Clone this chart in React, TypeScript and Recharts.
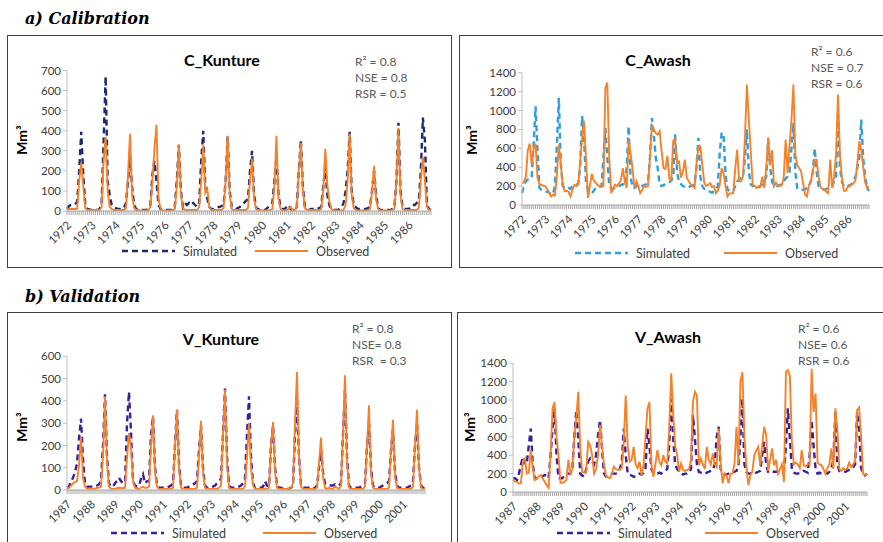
import { LineChart, Line, XAxis, YAxis } from 'recharts';

const CAL_YEARS = [1972, 1973, 1974, 1975, 1976, 1977, 1978, 1979, 1980, 1981, 1982, 1983, 1984, 1985, 1986];
const VAL_YEARS = [1987, 1988, 1989, 1990, 1991, 1992, 1993, 1994, 1995, 1996, 1997, 1998, 1999, 2000, 2001];
const MONTHS = ['01', '02', '03', '04', '05', '06', '07', '08', '09', '10', '11', '12'];

// C_Kunture, monthly Mm3, 1972-1986
const ckSim = [
  10, 25, 30, 30, 35, 45, 200, 395, 180, 30, 10, 8,
  5, 5, 5, 5, 10, 30, 350, 670, 150, 80, 30, 20,
  15, 10, 10, 10, 15, 40, 150, 270, 120, 30, 10, 5,
  5, 5, 5, 5, 10, 30, 180, 250, 150, 30, 10, 5,
  5, 5, 5, 5, 5, 20, 150, 330, 100, 20, 40, 30,
  40, 30, 40, 30, 20, 40, 250, 400, 120, 60, 20, 10,
  10, 15, 20, 20, 25, 30, 150, 370, 100, 20, 10, 10,
  15, 20, 30, 40, 50, 60, 200, 300, 80, 15, 10, 5,
  5, 5, 10, 20, 30, 40, 150, 270, 80, 20, 10, 10,
  20, 30, 10, 5, 5, 20, 200, 355, 120, 20, 10, 5,
  10, 10, 10, 10, 15, 20, 120, 220, 80, 30, 10, 5,
  5, 5, 10, 20, 40, 100, 200, 395, 100, 30, 20, 10,
  10, 10, 10, 10, 15, 20, 100, 200, 80, 15, 5, 5,
  5, 5, 5, 5, 10, 20, 150, 440, 100, 20, 10, 10,
  10, 20, 30, 30, 40, 50, 200, 465, 350, 30, 10, 5,
];
const ckObs = [
  5, 10, 10, 10, 10, 12, 150, 240, 120, 15, 5, 5,
  5, 5, 5, 5, 5, 20, 250, 370, 100, 20, 10, 5,
  5, 5, 5, 5, 5, 15, 180, 385, 80, 15, 5, 5,
  3, 3, 3, 3, 5, 20, 150, 310, 430, 60, 10, 3,
  3, 3, 3, 3, 5, 10, 120, 330, 80, 15, 5, 5,
  5, 5, 5, 5, 5, 20, 150, 330, 90, 110, 20, 5,
  5, 5, 5, 5, 5, 15, 150, 375, 80, 10, 5, 5,
  5, 5, 5, 5, 5, 15, 150, 260, 60, 10, 5, 5,
  3, 3, 3, 3, 5, 10, 120, 375, 60, 10, 3, 3,
  5, 10, 20, 5, 5, 15, 200, 340, 100, 15, 5, 5,
  5, 5, 5, 5, 5, 10, 100, 310, 130, 50, 10, 5,
  3, 3, 3, 3, 5, 30, 150, 385, 80, 15, 5, 3,
  3, 3, 3, 3, 5, 10, 100, 225, 60, 10, 3, 3,
  3, 3, 3, 3, 5, 10, 150, 415, 80, 10, 5, 5,
  5, 5, 5, 5, 5, 15, 150, 270, 150, 20, 5, 5,
];

// C_Awash, 1972-1986
const caSim = [
  125, 200, 250, 270, 270, 300, 640, 1045, 570, 180, 160, 150,
  145, 140, 130, 110, 120, 200, 640, 1135, 450, 200, 180, 170,
  180, 170, 200, 200, 210, 230, 400, 940, 700, 250, 150, 140,
  125, 150, 180, 190, 190, 200, 500, 815, 500, 200, 180, 170,
  180, 190, 200, 210, 220, 200, 400, 835, 300, 190, 180, 200,
  200, 180, 200, 210, 220, 240, 500, 920, 745, 500, 390, 215,
  200, 210, 220, 230, 240, 260, 300, 750, 350, 240, 220, 200,
  190, 180, 190, 200, 210, 220, 400, 710, 300, 200, 170, 160,
  150, 140, 130, 150, 170, 200, 550, 765, 740, 320, 165, 150,
  140, 150, 200, 250, 270, 300, 300, 500, 800, 350, 220, 200,
  200, 190, 180, 200, 220, 250, 300, 690, 400, 250, 200, 200,
  200, 210, 220, 250, 280, 300, 350, 600, 870, 350, 180, 165,
  165, 160, 165, 180, 200, 250, 350, 600, 350, 200, 180, 170,
  160, 170, 180, 190, 200, 250, 300, 960, 400, 250, 200, 190,
  200, 210, 220, 250, 300, 400, 500, 905, 500, 300, 180, 150,
];
const caObs = [
  230, 240, 300, 580, 650, 430, 600, 650, 290, 220, 215, 200,
  200, 170, 130, 90, 110, 100, 320, 640, 430, 220, 145, 150,
  140, 90, 160, 215, 200, 215, 460, 700, 890, 500, 75, 200,
  330, 260, 235, 210, 200, 190, 200, 1240, 1295, 500, 125, 170,
  215, 200, 230, 260, 390, 250, 180, 690, 550, 390, 180, 250,
  200, 125, 160, 200, 190, 200, 500, 840, 800, 760, 745, 780,
  570, 390, 380, 520, 280, 260, 680, 700, 450, 460, 290, 350,
  480, 290, 250, 220, 200, 180, 430, 620, 620, 430, 235, 200,
  215, 230, 190, 200, 125, 150, 215, 390, 330, 200, 90, 120,
  125, 125, 390, 585, 250, 250, 300, 710, 1275, 900, 570, 215,
  200, 180, 200, 200, 300, 180, 400, 715, 420, 580, 200, 235,
  210, 200, 210, 290, 690, 340, 640, 900, 1275, 535, 420, 390,
  355, 230, 110, 90, 210, 250, 350, 480, 480, 300, 190, 170,
  160, 140, 125, 480, 180, 300, 535, 1170, 535, 300, 150, 150,
  190, 200, 215, 230, 260, 445, 675, 585, 400, 240, 180, 200,
];

// V_Kunture, 1987-2001
const vkSim = [
  10, 15, 40, 55, 80, 120, 230, 320, 140, 30, 15, 15,
  15, 15, 20, 20, 25, 40, 200, 430, 150, 30, 15, 15,
  30, 40, 55, 40, 30, 35, 300, 440, 260, 40, 20, 15,
  20, 50, 70, 30, 40, 40, 250, 330, 100, 20, 10, 10,
  10, 10, 10, 15, 20, 30, 200, 360, 120, 20, 10, 10,
  10, 15, 20, 25, 30, 40, 180, 290, 100, 20, 10, 10,
  10, 15, 20, 30, 40, 50, 250, 455, 150, 20, 10, 10,
  10, 10, 15, 20, 30, 50, 250, 420, 150, 30, 10, 10,
  10, 10, 15, 40, 20, 15, 200, 290, 100, 20, 10, 10,
  5, 5, 5, 5, 10, 20, 250, 400, 150, 20, 10, 10,
  10, 10, 5, 5, 10, 20, 100, 180, 80, 30, 25, 20,
  20, 20, 25, 20, 20, 30, 250, 450, 150, 20, 10, 10,
  10, 10, 10, 15, 20, 30, 200, 300, 100, 20, 10, 10,
  10, 15, 20, 25, 30, 40, 180, 270, 80, 20, 10, 10,
  10, 10, 10, 15, 20, 40, 200, 300, 100, 20, 10, 5,
];
const vkObs = [
  5, 10, 20, 30, 35, 40, 110, 240, 55, 15, 5, 5,
  5, 5, 5, 10, 10, 15, 150, 420, 120, 15, 5, 5,
  5, 8, 10, 8, 8, 10, 143, 255, 190, 40, 10, 5,
  5, 10, 15, 10, 10, 15, 200, 335, 80, 15, 5, 5,
  5, 5, 5, 5, 5, 10, 200, 360, 100, 10, 5, 5,
  5, 5, 5, 5, 5, 10, 150, 310, 80, 10, 5, 5,
  5, 5, 5, 5, 10, 20, 250, 450, 120, 10, 5, 5,
  5, 5, 5, 5, 5, 15, 150, 300, 100, 20, 5, 5,
  5, 5, 5, 5, 5, 10, 200, 305, 80, 10, 5, 5,
  5, 5, 5, 5, 10, 30, 300, 530, 150, 15, 5, 5,
  5, 5, 5, 5, 5, 10, 120, 235, 60, 10, 5, 10,
  5, 5, 15, 10, 5, 20, 250, 515, 120, 10, 5, 5,
  5, 5, 5, 5, 5, 15, 200, 380, 80, 10, 5, 5,
  5, 5, 5, 5, 5, 10, 180, 315, 60, 10, 5, 5,
  5, 5, 5, 5, 5, 15, 200, 360, 100, 10, 5, 5,
];

// V_Awash, 1987-2001
const vaSim = [
  150, 150, 130, 200, 300, 380, 300, 320, 510, 690, 300, 150,
  150, 140, 150, 170, 185, 180, 150, 400, 690, 910, 400, 150,
  150, 150, 180, 200, 200, 200, 250, 600, 890, 580, 200, 180,
  165, 250, 330, 365, 330, 300, 400, 620, 780, 475, 200, 170,
  180, 190, 200, 200, 200, 210, 250, 330, 690, 400, 200, 190,
  180, 165, 170, 180, 200, 190, 210, 260, 690, 500, 250, 200,
  200, 200, 210, 200, 220, 230, 250, 510, 1015, 580, 300, 250,
  220, 200, 190, 200, 200, 210, 250, 835, 580, 300, 220, 210,
  200, 200, 210, 220, 230, 240, 300, 600, 710, 250, 200, 190,
  190, 200, 200, 210, 220, 230, 280, 600, 1015, 300, 220, 200,
  200, 210, 200, 210, 220, 230, 400, 545, 300, 220, 210, 220,
  220, 220, 220, 220, 210, 220, 500, 910, 580, 250, 210, 200,
  200, 210, 220, 230, 220, 210, 400, 780, 500, 250, 200, 210,
  200, 200, 210, 200, 220, 250, 350, 870, 300, 230, 220, 220,
  220, 230, 240, 250, 270, 300, 870, 700, 260, 200, 180, 200,
];
const vaObs = [
  130, 112, 110, 90, 95, 330, 365, 200, 210, 455, 257, 130,
  150, 170, 185, 150, 110, 75, 47, 400, 910, 980, 600, 400,
  100, 100, 110, 130, 350, 200, 250, 600, 800, 1090, 475, 220,
  210, 220, 545, 510, 400, 200, 250, 400, 730, 500, 300, 180,
  160, 150, 200, 275, 250, 240, 250, 260, 545, 1050, 500, 330,
  350, 490, 300, 260, 330, 185, 290, 600, 910, 980, 300, 165,
  300, 455, 330, 290, 400, 330, 310, 700, 1290, 850, 500, 400,
  220, 310, 240, 230, 240, 250, 350, 980, 1090, 1050, 290, 365,
  300, 250, 490, 350, 300, 420, 300, 270, 690, 300, 95, 200,
  180, 95, 200, 200, 310, 710, 300, 1200, 1305, 600, 280, 75,
  180, 220, 400, 450, 490, 290, 510, 710, 620, 230, 350, 475,
  290, 350, 200, 250, 300, 110, 1305, 1325, 1260, 545, 300, 320,
  300, 260, 455, 290, 280, 300, 300, 1340, 870, 1070, 320, 300,
  290, 250, 200, 260, 300, 475, 250, 910, 690, 250, 230, 260,
  240, 260, 320, 270, 300, 340, 890, 920, 620, 200, 185, 200,
];

const toRows = (years: number[], sim: number[], obs: number[]) =>
  years.flatMap((yr, i) =>
    MONTHS.map((mm, j) => ({ month: `${yr}-${mm}`, sim: sim[i * 12 + j], obs: obs[i * 12 + j] }))
  );

const ORANGE = '#F5822A';
const FONT = 'Lato, "Open Sans", sans-serif';
const AXIS = '#A6A6A6';

function YearTick(props: any) {
  const { x, y, payload } = props;
  const v: string = payload.value;
  if (!v.endsWith('-01')) return <g />;
  const ax = x + 5;
  const ay = y + 9;
  return (
    <text x={ax} y={ay} textAnchor="end" fontSize={11.5} fill="#404040" fontFamily={FONT}
      transform={`rotate(-45, ${ax}, ${ay})`}>
      {v.slice(0, 4)}
    </text>
  );
}

type PanelSpec = {
  title: string;
  stats: string[];
  rows: { month: string; sim: number; obs: number }[];
  simColor: string;
  yMax: number;
  yStep: number;
  box: [number, number, number, number];
  plot: [number, number, number, number];
  titleAt: [number, number];
  statsAt: [number, number];
  yLabelAt: [number, number];
  legendY: number;
  simLegendX: number;
  obsLegendX: number;
};

const panels: PanelSpec[] = [
  {
    title: 'C_Kunture', stats: ['R² = 0.8', 'NSE = 0.8', 'RSR = 0.5'],
    rows: toRows(CAL_YEARS, ckSim, ckObs), simColor: '#1F2A6E', yMax: 700, yStep: 100,
    box: [7, 35, 445, 233], plot: [67, 70.5, 431, 211],
    titleAt: [222, 60], statsAt: [355, 62], yLabelAt: [22, 140],
    legendY: 251, simLegendX: 122, obsLegendX: 255,
  },
  {
    title: 'C_Awash', stats: ['R² = 0.6', 'NSE = 0.7', 'RSR = 0.6'],
    rows: toRows(CAL_YEARS, caSim, caObs), simColor: '#2E9FDB', yMax: 1400, yStep: 200,
    box: [459, 35, 440, 233], plot: [522, 72.7, 869, 205],
    titleAt: [658, 60], statsAt: [811, 52], yLabelAt: [472, 140],
    legendY: 253, simLegendX: 575, obsLegendX: 724,
  },
  {
    title: 'V_Kunture', stats: ['R² = 0.8', 'NSE= 0.8', 'RSR  = 0.3'],
    rows: toRows(VAL_YEARS, vkSim, vkObs), simColor: '#3A1F9A', yMax: 600, yStep: 100,
    box: [7, 312, 445, 240], plot: [67, 356.3, 425, 490],
    titleAt: [221, 339], statsAt: [352, 329], yLabelAt: [22, 427],
    legendY: 533, simLegendX: 111, obsLegendX: 263,
  },
  {
    title: 'V_Awash', stats: ['R² = 0.6', 'NSE= 0.6', 'RSR = 0.6'],
    rows: toRows(VAL_YEARS, vaSim, vaObs), simColor: '#3A1F9A', yMax: 1400, yStep: 200,
    box: [457, 312, 440, 240], plot: [513, 363.3, 867, 492],
    titleAt: [668, 337], statsAt: [798, 329], yLabelAt: [470, 427],
    legendY: 533, simLegendX: 557, obsLegendX: 705,
  },
];

const Y_AXIS_W = 40;
const X_AXIS_H = 45;

function Panel({ p }: { p: PanelSpec }) {
  const [bl, bt, bw, bh] = p.box;
  const [pl, pt, pr, pb] = p.plot;
  const ticks: number[] = [];
  for (let v = 0; v <= p.yMax; v += p.yStep) ticks.push(v);
  const chartH = pb - bt + X_AXIS_H;

  return (
    <>
      <div style={{ position: 'absolute', left: bl, top: bt, width: bw, height: bh, boxSizing: 'border-box', border: '1.5px solid #404040' }} />
      <div style={{ position: 'absolute', left: bl, top: bt }}>
        <LineChart width={bw} height={chartH} data={p.rows}
          margin={{ top: pt - bt, right: bl + bw - pr, bottom: 0, left: pl - bl - Y_AXIS_W }}>
          <XAxis dataKey="month" interval={0} height={X_AXIS_H} tick={<YearTick />}
            tickSize={4} stroke={AXIS} />
          <YAxis domain={[0, p.yMax]} ticks={ticks} width={Y_AXIS_W} tickSize={4} stroke="#BFBFBF"
            tick={{ fontSize: 11.5, fill: '#404040', fontFamily: FONT }} allowDataOverflow />
          <Line type="linear" dataKey="sim" stroke={p.simColor} strokeWidth={2.4} strokeDasharray="6 4"
            dot={false} isAnimationActive={false} />
          <Line type="linear" dataKey="obs" stroke={ORANGE} strokeWidth={1.9} dot={false} isAnimationActive={false} />
        </LineChart>
      </div>
      <div style={{ position: 'absolute', left: p.titleAt[0] - 60, top: p.titleAt[1] - 10, width: 120, textAlign: 'center', fontFamily: FONT, fontWeight: 700, fontSize: 16, lineHeight: '20px', color: '#000' }}>
        {p.title}
      </div>
      <div style={{ position: 'absolute', left: p.statsAt[0], top: p.statsAt[1] - 8, fontFamily: FONT, fontSize: 12, lineHeight: '16px', color: '#595959', whiteSpace: 'pre' }}>
        {p.stats.map((s) => <div key={s}>{s}</div>)}
      </div>
      <div style={{ position: 'absolute', left: p.yLabelAt[0] - 20, top: p.yLabelAt[1] - 9, width: 40, textAlign: 'center', transform: 'rotate(-90deg)', fontFamily: FONT, fontWeight: 700, fontSize: 14, lineHeight: '18px' }}>
        Mm³
      </div>
      <svg style={{ position: 'absolute', left: 0, top: p.legendY - 8 }} width={883} height={16}>
        <line x1={p.simLegendX} x2={p.simLegendX + 53} y1={8} y2={8} stroke={p.simColor} strokeWidth={2.4} strokeDasharray="6 4" />
        <text x={p.simLegendX + 61} y={12.5} fontSize={12.5} fill="#404040" fontFamily={FONT}>Simulated</text>
        <line x1={p.obsLegendX} x2={p.obsLegendX + 53} y1={8} y2={8} stroke={ORANGE} strokeWidth={1.9} />
        <text x={p.obsLegendX + 61} y={12.5} fontSize={12.5} fill="#404040" fontFamily={FONT}>Observed</text>
      </svg>
    </>
  );
}

export default function App() {
  return (
    <div style={{ position: 'absolute', left: 0, top: 0, width: 883, height: 542, overflow: 'hidden', background: '#fff' }}>
      <div style={{ position: 'absolute', left: 25, top: 9, fontFamily: '"DejaVu Serif", serif', fontStyle: 'italic', fontWeight: 700, fontSize: 16 }}>
        a) Calibration
      </div>
      <div style={{ position: 'absolute', left: 25, top: 287, fontFamily: '"DejaVu Serif", serif', fontStyle: 'italic', fontWeight: 700, fontSize: 16 }}>
        b) Validation
      </div>
      {panels.map((p) => <Panel key={p.title} p={p} />)}
    </div>
  );
}
